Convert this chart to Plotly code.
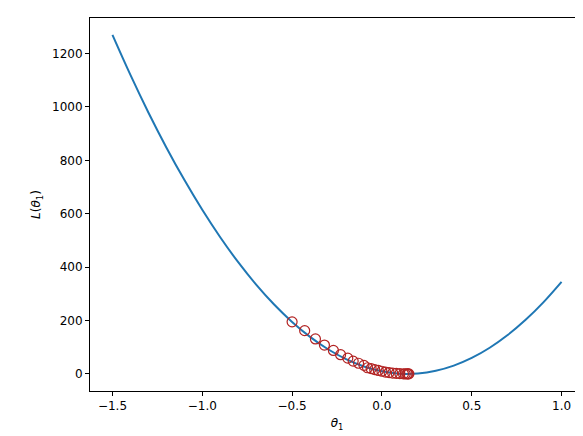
import plotly.graph_objects as go

# loss curve samples
theta = [-1.5, -1.4, -1.3, -1.2, -1.1, -1.0, -0.9, -0.8, -0.7, -0.6, -0.5, -0.4, -0.3,
         -0.2, -0.1, 0.0, 0.1, 0.2, 0.3, 0.4, 0.5, 0.6, 0.7, 0.8, 0.9, 1.0]
loss = [1269.5, 1119.7, 979.3, 848.3, 726.8, 614.6, 511.8, 418.4, 334.4, 259.8, 194.6,
        138.8, 92.4, 55.5, 27.9, 9.7, 0.9, 1.5, 11.5, 30.9, 59.7, 97.9, 145.6, 202.6,
        269.0, 344.8]

# gradient descent steps
step_theta = [-0.5, -0.43, -0.37, -0.32, -0.27, -0.23, -0.19, -0.16, -0.13, -0.10, -0.08,
              -0.06, -0.04, -0.02, 0.0, 0.02, 0.04, 0.06, 0.08, 0.10, 0.12, 0.13, 0.14,
              0.145, 0.15]
step_loss = [195, 162, 131, 108, 88, 72, 59, 48, 40, 32, 23, 20, 16, 13, 10, 7, 5, 3, 2,
             1, 0.3, 0.1, 0, 0, 0]

fig = go.Figure()
fig.add_trace(go.Scatter(x=theta, y=loss, mode="lines",
                         line=dict(color="#1f77b4", width=2, shape="spline")))
fig.add_trace(go.Scatter(x=step_theta, y=step_loss, mode="markers",
                         marker=dict(symbol="circle-open", size=10, color="#b22222",
                                     line=dict(width=1.2))))

font = dict(family="DejaVu Sans", size=12, color="black")
axis = dict(showgrid=False, zeroline=False, showline=True, linecolor="black", mirror=True,
            ticks="outside", ticklen=4, tickcolor="black", tickfont=font)
fig.update_xaxes(axis, range=[-1.625, 1.125], tickvals=[-1.5, -1.0, -0.5, 0.0, 0.5, 1.0],
                 ticktext=["−1.5", "−1.0", "−0.5", "0.0", "0.5", "1.0"],
                 title=dict(text="<i>θ</i><sub>1</sub>", font=font, standoff=6))
fig.update_yaxes(axis, range=[-64, 1333], tickvals=[0, 200, 400, 600, 800, 1000, 1200],
                 title=dict(text="<i>L</i>(<i>θ</i><sub>1</sub>)", font=font, standoff=8))
fig.update_layout(width=583, height=436, showlegend=False, plot_bgcolor="white",
                  paper_bgcolor="white", margin=dict(l=82, r=7, t=10, b=53))
fig.write_html("out.html")
